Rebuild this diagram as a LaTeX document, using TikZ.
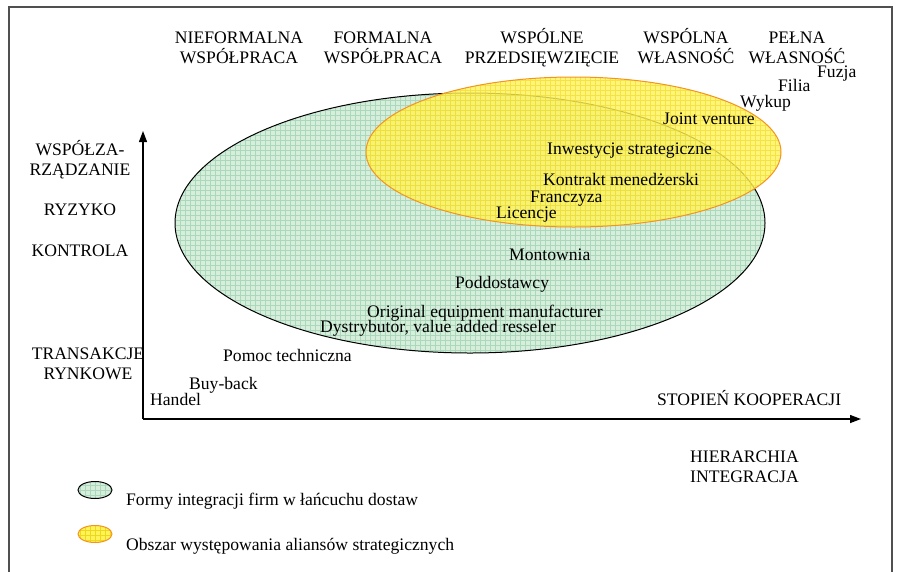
\documentclass[tikz,border=0pt]{standalone}
\usepackage{fontspec}
\setmainfont{Liberation Serif}
\usetikzlibrary{arrows.meta}
\definecolor{gfill}{HTML}{D8EEDD}
\definecolor{ggrid}{HTML}{A9D9BA}
\definecolor{yfill}{HTML}{FFF35A}
\definecolor{ygrid}{HTML}{EED81E}
\definecolor{orng}{HTML}{F4931E}
\definecolor{frame}{HTML}{505050}
\begin{document}
\begin{tikzpicture}[x=1pt,y=-1pt,
  every node/.style={inner sep=0pt, font=\fontsize{17.6}{20}\selectfont},
  lbl/.style={anchor=base west},
  ctr/.style={anchor=base},
  axis/.style={line width=1.3pt, -{Triangle[length=11pt,width=8pt]}},
  gridline/.style={line width=0.35pt}]
\useasboundingbox (0,0) rectangle (899,571);
% frame
\draw[frame, line width=1.5pt] (9,575) -- (9,7) -- (892,7) -- (892,575);
% green ellipse
\begin{scope}
  \clip (470,223) ellipse [x radius=295, y radius=130];
  \fill[gfill] (170,90) rectangle (770,356);
  \draw[ggrid, gridline, step=5pt] (170,90) grid (770,356);
\end{scope}
\draw[black, line width=1pt] (470,223) ellipse [x radius=295, y radius=130];
% yellow ellipse
\begin{scope}
  \clip (573.5,152) ellipse [x radius=207.5, y radius=75];
  \fill[yfill, fill opacity=0.8] (360,75) rectangle (785,230);
  \draw[ygrid, gridline, opacity=0.6, step=5pt] (360,75) grid (785,230);
\end{scope}
\draw[orng, line width=1pt] (573.5,152) ellipse [x radius=207.5, y radius=75];
% axes
\coordinate (O) at (143,419);
\coordinate (Ytip) at (143,131);
\coordinate (Xtip) at (861,419);
\draw[axis] (O) -- (Ytip);
\draw[axis] (O) -- (Xtip);
% column headers
\node[ctr] (h1a) at (239,43) {NIEFORMALNA};
\node[ctr] (h1b) at (239,63) {WSPÓŁPRACA};
\node[ctr] (h2a) at (383,43) {FORMALNA};
\node[ctr] (h2b) at (383,63) {WSPÓŁPRACA};
\node[ctr] (h3a) at (542,43) {WSPÓLNE};
\node[ctr] (h3b) at (542,63) {PRZEDSIĘWZIĘCIE};
\node[ctr] (h4a) at (686,43) {WSPÓLNA};
\node[ctr] (h4b) at (686,63) {WŁASNOŚĆ};
\node[ctr] (h5a) at (797,43) {PEŁNA};
\node[ctr] (h5b) at (797,63) {WŁASNOŚĆ};
% left labels
\node[ctr] (l1a) at (80,155) {WSPÓŁZA-};
\node[ctr] (l1b) at (80,175) {RZĄDZANIE};
\node[ctr] (l2) at (80,215) {RYZYKO};
\node[ctr] (l3) at (80,256) {KONTROLA};
\node[ctr] (l4a) at (88,359) {TRANSAKCJE};
\node[ctr] (l4b) at (88,379) {RYNKOWE};
% items
\node[lbl] (fuz) at (817,77) {Fuzja};
\node[lbl] (fil) at (778,91) {Filia};
\node[lbl] (wyk) at (740,107) {Wykup};
\node[lbl] (jv) at (663,124) {Joint venture};
\node[lbl] (inw) at (547,154) {Inwestycje strategiczne};
\node[lbl] (kon) at (543,185) {Kontrakt menedżerski};
\node[lbl] (fra) at (530,202) {Franczyza};
\node[lbl] (lic) at (496,218) {Licencje};
\node[lbl] (mon) at (509,260) {Montownia};
\node[lbl] (pod) at (455,288) {Poddostawcy};
\node[lbl] (oem) at (367,317) {Original equipment manufacturer};
\node[lbl] (dys) at (320,332) {Dystrybutor, value added resseler};
\node[lbl] (pom) at (223,361) {Pomoc techniczna};
\node[lbl] (buy) at (189,389) {Buy-back};
\node[lbl] (han) at (150,405) {Handel};
% axis labels
\node[lbl] (stop) at (657,405) {STOPIEŃ KOOPERACJI};
\node[lbl] (hier) at (690,462) {HIERARCHIA};
\node[lbl] (integ) at (690,482) {INTEGRACJA};
% legend
\begin{scope}
  \clip (95,490) ellipse [x radius=17, y radius=8.5];
  \fill[gfill] (76,480) rectangle (114,500);
  \draw[ggrid, gridline, step=5pt] (76,480) grid (114,500);
\end{scope}
\draw[black, line width=1pt] (95,490) ellipse [x radius=17, y radius=8.5];
\begin{scope}
  \clip (95,534) ellipse [x radius=17, y radius=8.5];
  \fill[yfill] (76,524) rectangle (114,544);
  \draw[ygrid, gridline, step=5pt] (76,524) grid (114,544);
\end{scope}
\draw[orng, line width=1pt] (95,534) ellipse [x radius=17, y radius=8.5];
\node[lbl] (leg1) at (126,505) {Formy integracji firm w łańcuchu dostaw};
\node[lbl] (leg2) at (126,550) {Obszar występowania aliansów strategicznych};
\end{tikzpicture}
\end{document}
